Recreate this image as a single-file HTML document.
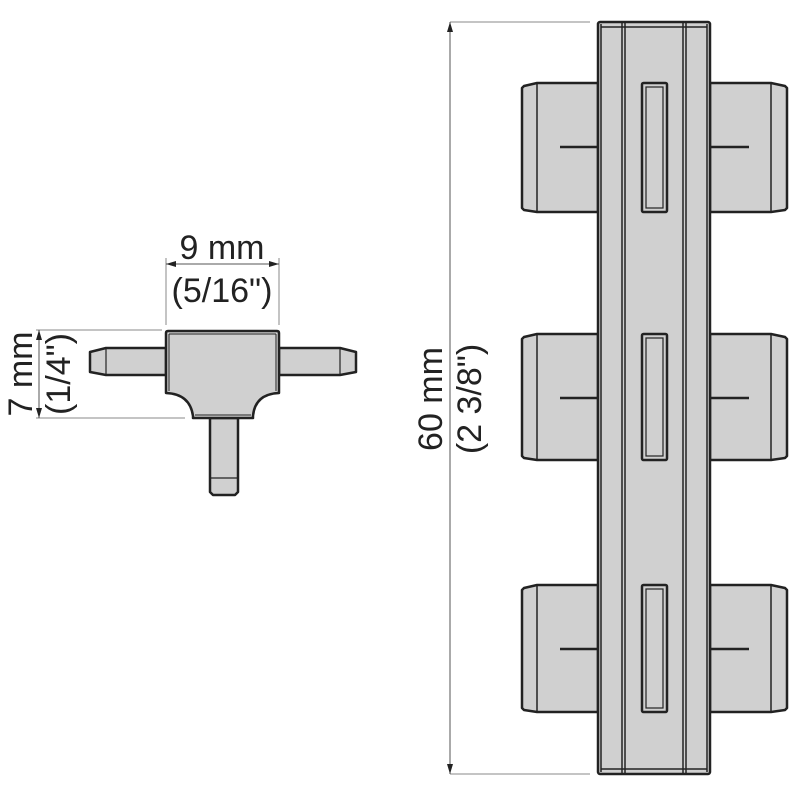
<!DOCTYPE html>
<html><head><meta charset="utf-8"><style>html,body{margin:0;padding:0;background:#fff}svg{display:block}</style></head>
<body>
<svg width="800" height="800" viewBox="0 0 800 800" xmlns="http://www.w3.org/2000/svg" font-family="Liberation Sans, sans-serif">
<g stroke="#888" stroke-width="1" fill="none">
<line x1="450" y1="22" x2="590" y2="22"/>
<line x1="450" y1="774" x2="590" y2="774"/>
<line x1="166" y1="258" x2="166" y2="325"/>
<line x1="279" y1="258" x2="279" y2="325"/>
<line x1="36" y1="330" x2="162" y2="330"/>
<line x1="36" y1="418" x2="185" y2="418"/>
</g>
<g stroke="#555" stroke-width="1">
<line x1="450" y1="22" x2="450" y2="774"/>
<line x1="166" y1="264" x2="279" y2="264"/>
<line x1="39" y1="330" x2="39" y2="418"/>
</g>
<g fill="#222">
<path d="M450,22 L447,32 L453,32 Z"/>
<path d="M450,774 L447,764 L453,764 Z"/>
<path d="M166,264 L176,261 L176,267 Z"/>
<path d="M279,264 L269,261 L269,267 Z"/>
<path d="M39,330 L36,340 L42,340 Z"/>
<path d="M39,418 L36,408 L42,408 Z"/>
</g>

<g fill="#222" font-size="34">
<text x="222" y="259" text-anchor="middle">9 mm</text>
<text x="222" y="302" text-anchor="middle">(5/16")</text>
<text transform="translate(32 374) rotate(-90)" text-anchor="middle">7 mm</text>
<text transform="translate(70 374) rotate(-90)" text-anchor="middle">(1/4")</text>
<text transform="translate(442 399) rotate(-90)" text-anchor="middle">60 mm</text>
<text transform="translate(481 399) rotate(-90)" text-anchor="middle">(2 3/8")</text>
</g>

<!-- tee -->
<g fill="#d0d0d0" stroke="#222" stroke-width="2.5" stroke-linejoin="round">
<path d="M90,352 L106,348 L166,348 L166,375 L106,375 L90,372 Z"/>
<line x1="106" y1="348" x2="106" y2="375" stroke-width="1.2"/>
<path d="M356,352 L340,348 L279,348 L279,375 L340,375 L356,372 Z"/>
<line x1="340" y1="348" x2="340" y2="375" stroke-width="1.2"/>
<path d="M210,418 L210,492 L213,495 L235,495 L238,492 L238,418 Z"/>
<line x1="210" y1="478" x2="238" y2="478" stroke-width="1.2"/>
<path d="M168,331 L277,331 Q279,331 279,333 L279,393 Q255,394 253,416 L253,418 L193,418 L193,416 Q190,394 166,393 L166,333 Q166,331 168,331 Z"/>
<line x1="169" y1="334" x2="276" y2="334" stroke-width="1"/>
<line x1="169" y1="334" x2="169" y2="391" stroke-width="1"/>
<line x1="276" y1="334" x2="276" y2="391" stroke-width="1"/>
<line x1="195" y1="415" x2="251" y2="415" stroke-width="1"/>
</g>

<!-- strip blocks -->
<g fill="#d0d0d0" stroke="#222" stroke-width="2.5" stroke-linejoin="round">
<path d="M598,83 L537,83 L524,86 L522,88 L522,208 L524,210 L537,212 L598,212 Z"/>
<path d="M710,83 L771,83 L785,86 L787,88 L787,208 L785,210 L771,212 L710,212 Z"/>
<path d="M598,334 L537,334 L524,337 L522,339 L522,456 L524,458 L537,460 L598,460 Z"/>
<path d="M710,334 L771,334 L785,337 L787,339 L787,456 L785,458 L771,460 L710,460 Z"/>
<path d="M598,585 L537,585 L524,588 L522,590 L522,708 L524,710 L537,712 L598,712 Z"/>
<path d="M710,585 L771,585 L785,588 L787,590 L787,708 L785,710 L771,712 L710,712 Z"/>
</g>
<g stroke="#222" stroke-width="1.5">
<line x1="537" y1="83" x2="537" y2="212"/><line x1="771" y1="83" x2="771" y2="212"/>
<line x1="537" y1="334" x2="537" y2="460"/><line x1="771" y1="334" x2="771" y2="460"/>
<line x1="537" y1="585" x2="537" y2="712"/><line x1="771" y1="585" x2="771" y2="712"/>
</g>
<g stroke="#222" stroke-width="2.5">
<line x1="560" y1="147" x2="598" y2="147"/><line x1="710" y1="147" x2="749" y2="147"/>
<line x1="560" y1="398" x2="598" y2="398"/><line x1="710" y1="398" x2="749" y2="398"/>
<line x1="560" y1="649" x2="598" y2="649"/><line x1="710" y1="649" x2="749" y2="649"/>
</g>
<g fill="#d0d0d0" stroke="#222" stroke-width="2.5" stroke-linejoin="round">
<rect x="598" y="22" width="112" height="752" rx="2"/>
</g>
<g stroke="#222" stroke-width="1.5" fill="none">
<line x1="601" y1="27" x2="707" y2="27"/>
<line x1="601" y1="769" x2="707" y2="769"/>
<line x1="601" y1="24" x2="601" y2="772"/>
<line x1="707" y1="24" x2="707" y2="772"/>
<line x1="622" y1="22" x2="622" y2="774"/>
<line x1="625" y1="22" x2="625" y2="774"/>
<line x1="683" y1="22" x2="683" y2="774"/>
<line x1="686" y1="22" x2="686" y2="774"/>
</g>
<g fill="#d0d0d0" stroke="#222" stroke-width="2.5">
<rect x="642" y="83" width="25" height="129" rx="1.5"/>
<rect x="642" y="334" width="25" height="126" rx="1.5"/>
<rect x="642" y="585" width="25" height="127" rx="1.5"/>
</g>
<g fill="none" stroke="#222" stroke-width="1.2">
<rect x="646" y="87" width="17" height="121"/>
<rect x="646" y="338" width="17" height="118"/>
<rect x="646" y="589" width="17" height="119"/>
</g>
</svg>
</body></html>
